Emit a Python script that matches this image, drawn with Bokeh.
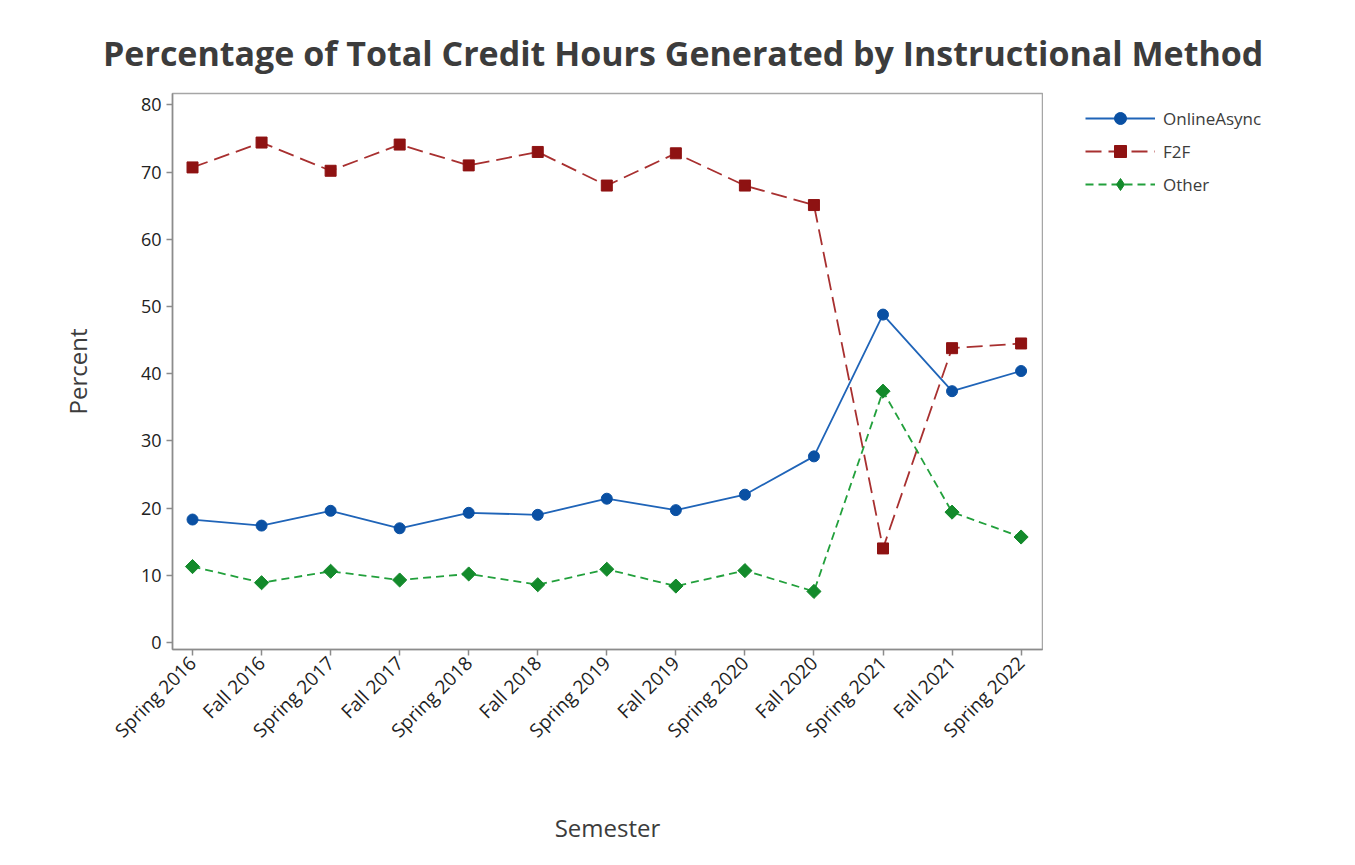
import math
from bokeh.plotting import figure
from bokeh.layouts import row, column
from bokeh.models import Range1d, FixedTicker, Legend, LegendItem, ColumnDataSource, Div
from bokeh.embed import file_html
from bokeh.resources import INLINE

semesters = ["Spring 2016", "Fall 2016", "Spring 2017", "Fall 2017", "Spring 2018",
             "Fall 2018", "Spring 2019", "Fall 2019", "Spring 2020", "Fall 2020",
             "Spring 2021", "Fall 2021", "Spring 2022"]
online_async = [18.3, 17.4, 19.6, 17.0, 19.3, 19.0, 21.4, 19.7, 22.0, 27.7, 48.8, 37.4, 40.4]
f2f = [70.7, 74.4, 70.2, 74.1, 71.0, 73.0, 68.0, 72.8, 68.0, 65.1, 14.0, 43.8, 44.5]
other = [11.3, 8.9, 10.6, 9.3, 10.2, 8.6, 10.9, 8.4, 10.7, 7.6, 37.4, 19.4, 15.7]
y_ticks = [0, 10, 20, 30, 40, 50, 60, 70, 80]
series_names = ["OnlineAsync", "F2F", "Other"]
title_text = "Percentage of Total Credit Hours Generated by Instructional Method"

x_idx = list(range(len(semesters)))
src = ColumnDataSource(dict(x=x_idx, sem=semesters, online=online_async, f2f=f2f, other=other))

FONT = "Open Sans"
TXT = "#3c3c3c"

title_div = Div(text=title_text, width=1339, height=75, margin=(0, 0, 0, 0),
                styles={"font-family": FONT, "font-size": "34px", "font-weight": "bold",
                        "color": TXT, "line-height": "40px", "padding-top": "33px",
                        "padding-left": "103px", "white-space": "nowrap",
                        "box-sizing": "border-box"})

p = figure(width=1043, height=774, output_backend="svg", toolbar_location=None,
           x_range=Range1d(-0.29, 12.31), y_range=Range1d(-1.04, 81.7),
           min_border_left=172, min_border_right=1, min_border_top=18, min_border_bottom=200)

p.xgrid.visible = False
p.ygrid.visible = False
p.outline_line_color = "#a6a6a6"
p.outline_line_width = 1.5
p.background_fill_color = "white"
p.border_fill_color = "white"

for ax in (p.xaxis[0], p.yaxis[0]):
    ax.axis_line_color = "#8c8c8c"
    ax.axis_line_width = 1.5
    ax.major_tick_line_color = "#8c8c8c"
    ax.major_tick_line_width = 1.5
    ax.major_tick_out = 6
    ax.major_tick_in = 0
    ax.minor_tick_line_color = None
    ax.major_label_text_font = FONT
    ax.major_label_text_color = "#222222"
    ax.axis_label_text_font = FONT
    ax.axis_label_text_font_size = "24px"
    ax.axis_label_text_font_style = "normal"
    ax.axis_label_text_color = TXT

p.yaxis.ticker = FixedTicker(ticks=y_ticks)
p.yaxis.axis_label = "Percent"
p.yaxis.axis_label_standoff = 44
p.yaxis.major_label_standoff = 5
p.yaxis.major_label_text_font_size = "18px"

p.xaxis.ticker = FixedTicker(ticks=x_idx)
p.xaxis.major_label_overrides = {i: s for i, s in enumerate(semesters)}
p.xaxis.major_label_orientation = math.pi / 4
p.xaxis.axis_label = "Semester"
p.xaxis.axis_label_standoff = 56
p.xaxis.major_label_standoff = 4
p.xaxis.major_label_text_font_size = "19px"

blue_l, blue_m = "#1f64b8", "#0a50a3"
red_l, red_m = "#a83030", "#8e1212"
green_l, green_m = "#22a03c", "#138a2b"

styles = [
    dict(line=dict(line_color=blue_l, line_width=1.8),
         mark=dict(marker="circle", size=11, fill_color=blue_m, line_color=blue_m)),
    dict(line=dict(line_color=red_l, line_width=1.8, line_dash="16 7"),
         mark=dict(marker="square", size=11, fill_color=red_m, line_color=red_m)),
    dict(line=dict(line_color=green_l, line_width=1.8, line_dash="8 5"),
         mark=dict(marker="square", angle=math.pi / 4, size=10, fill_color=green_m, line_color=green_m)),
]
legend_marks = [
    dict(marker="circle", size=12, fill_color=blue_m, line_color=blue_m),
    dict(marker="square", size=12, fill_color=red_m, line_color=red_m),
    dict(marker="diamond", size=17, fill_color=green_m, line_color=green_m),
]
cols = ["online", "f2f", "other"]

for col, st in zip(cols, styles):
    p.line("x", col, source=src, **st["line"])
    p.scatter("x", col, source=src, **st["mark"])

# legend panel (its ranges keep the series themselves out of view; only the legend shows)
lp = figure(width=296, height=774, output_backend="svg", toolbar_location=None,
            x_range=Range1d(100, 101), y_range=Range1d(100, 101),
            x_axis_type=None, y_axis_type=None,
            min_border_left=32, min_border_right=0, min_border_top=0, min_border_bottom=0)
lp.outline_line_color = None
lp.xgrid.visible = False
lp.ygrid.visible = False
lp.background_fill_color = "white"
lp.border_fill_color = "white"

items = []
for name, col, st, lm in zip(series_names, cols, styles, legend_marks):
    lr = lp.line("x", col, source=src, **st["line"])
    mr = lp.scatter("x", col, source=src, **lm)
    items.append(LegendItem(label=name, renderers=[lr, mr]))

legend = Legend(items=items, location="top_left", orientation="vertical",
                glyph_width=70, glyph_height=30, label_height=30, spacing=3,
                label_standoff=8, padding=0, margin=10,
                border_line_alpha=0, background_fill_alpha=0,
                label_text_font=FONT, label_text_font_size="17px", label_text_color=TXT)
lp.add_layout(legend, "center")

layout = column(title_div, row(p, lp, spacing=0), spacing=0)
open("out.html", "w").write(file_html(layout, INLINE))
